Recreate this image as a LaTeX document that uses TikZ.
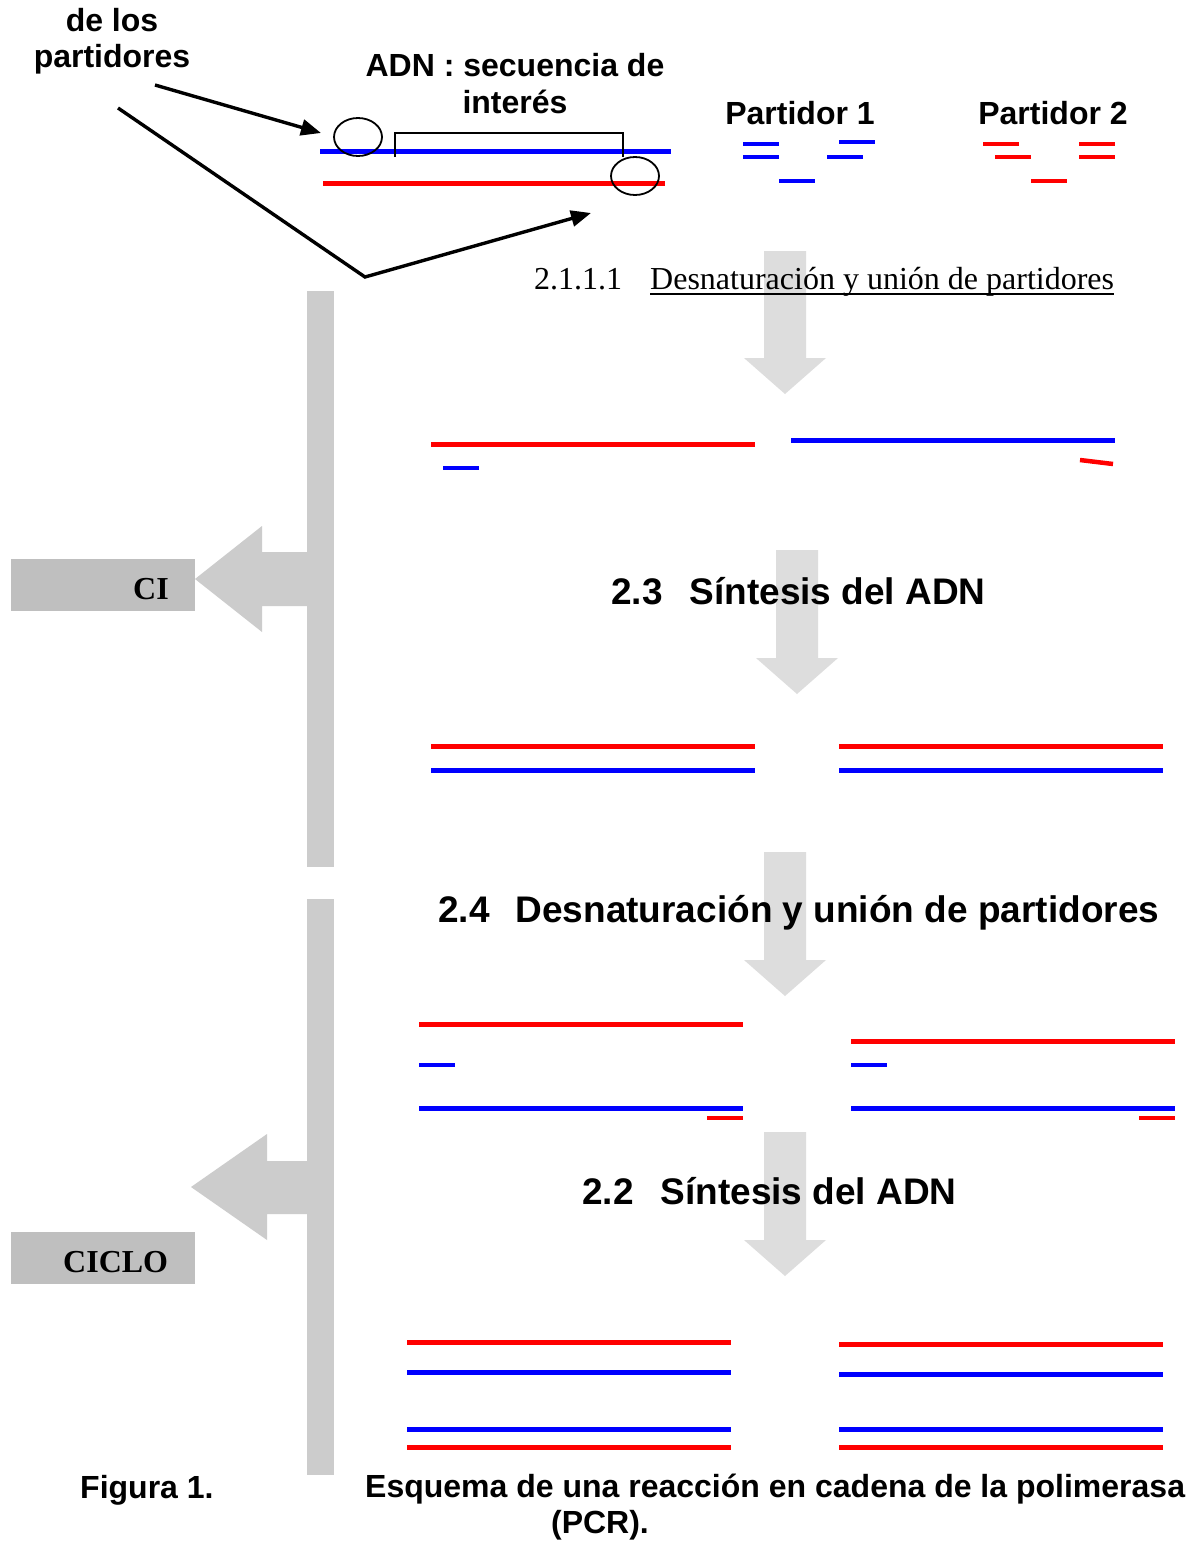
\documentclass[tikz,border=0pt]{standalone}
\usepackage{fontspec}
\setmainfont{Liberation Serif}
\newfontfamily\arialf{Liberation Sans}
\usetikzlibrary{arrows.meta,shapes.geometric}
\definecolor{bargray}{HTML}{CCCCCC}
\definecolor{boxgray}{HTML}{BFBFBF}
\definecolor{downgray}{HTML}{DDDDDD}
\tikzset{
  lbl/.style={font=\fontsize{32}{37}\selectfont\arialf\bfseries, inner sep=0, align=center, anchor=base},
  hd/.style={font=\fontsize{37}{42}\selectfont\arialf\bfseries, inner sep=0, anchor=base west},
  capt/.style={font=\fontsize{32}{36}\selectfont\arialf\bfseries, inner sep=0, anchor=base west},
  ser/.style={font=\fontsize{32}{37}\selectfont, inner sep=0, anchor=base west},
  serb/.style={font=\fontsize{32}{37}\selectfont\bfseries, inner sep=0, anchor=base west},
  rs/.style={draw=red, line width=5pt},
  bs/.style={draw=blue, line width=5pt},
  rp/.style={draw=red, line width=4.5pt},
  bp/.style={draw=blue, line width=4.5pt},
  blk/.style={draw=black, line width=3.4pt, -{Triangle[length=20pt,width=16pt]}},
  ring/.style={draw=black, line width=1.8pt, ellipse, minimum width=48pt, minimum height=38pt, inner sep=0},
}
\begin{document}
\begin{tikzpicture}[x=1pt,y=-1pt]
\useasboundingbox (0,0) rectangle (1194,1542);
\fill[white] (0,0) rectangle (1194,1542);

% ---- grey down arrows
\fill[downgray] (764,251) -- (806,251) -- (806,358) -- (826,358) -- (785,394) -- (744,358) -- (764,358) -- cycle;
\fill[downgray] (776,550) -- (818,550) -- (818,658) -- (838,658) -- (797,694) -- (756,658) -- (776,658) -- cycle;
\fill[downgray] (764,852) -- (806,852) -- (806,960) -- (826,960) -- (785,996) -- (744,960) -- (764,960) -- cycle;
\fill[downgray] (764,1132) -- (806,1132) -- (806,1240) -- (826,1240) -- (785,1276) -- (744,1240) -- (764,1240) -- cycle;

% ---- left grey bars and arrows
\fill[bargray] (307,291) rectangle (334,867);
\fill[bargray] (307,552) -- (262,552) -- (262,526) -- (195,579) -- (262,632) -- (262,606) -- (307,606) -- cycle;
\fill[bargray] (307,899) rectangle (334,1475);
\fill[bargray] (307,1161) -- (267,1161) -- (267,1134) -- (191,1187) -- (267,1240) -- (267,1214) -- (307,1214) -- cycle;

\node[fill=boxgray, minimum width=184pt, minimum height=52pt, inner sep=0] (cibox) at (103,585) {};
\node[serb] (ci) at (133,599) {CI};
\node[fill=boxgray, minimum width=184pt, minimum height=52pt, inner sep=0] (ciclobox) at (103,1258) {};
\node[serb] (ciclo) at (63,1272) {CICLO};

% ---- top labels (base anchor = last line)
\node[lbl, font=\fontsize{32}{36}\selectfont\arialf\bfseries] (prim) at (112,67) {de los\\partidores};
\node[lbl] (adn) at (515,113) {ADN : secuencia de\\interés};
\node[lbl] (p1) at (800,124) {Partidor 1};
\node[lbl] (p2) at (1053,124) {Partidor 2};

% ---- DNA with circles and bracket
\draw[bs] (320,151) -- (671,151);
\draw[rs] (323,183) -- (665,183);
\draw[line width=2pt] (395,157) -- (395,133) -- (623,133) -- (623,157);
\node[ring] (c1) at (358,137) {};
\node[ring] (c2) at (635,176) {};

\coordinate (a1s) at (155,85);
\coordinate (a1e) at (321,133);
\coordinate (a2s) at (118,108);
\coordinate (a2m) at (365,277);
\coordinate (a2e) at (591,213);
\draw[blk] (a1s) -- (a1e);
\draw[blk] (a2s) -- (a2m) -- (a2e);

% ---- primers
\draw[bp] (743,144) -- (779,144);
\draw[bp] (743,157) -- (779,157);
\draw[bp] (779,181) -- (815,181);
\draw[bp] (827,157) -- (863,157);
\draw[bp] (839,142) -- (875,142);
\draw[rp] (983,144) -- (1019,144);
\draw[rp] (995,157) -- (1031,157);
\draw[rp] (1031,181) -- (1067,181);
\draw[rp] (1079,144) -- (1115,144);
\draw[rp] (1079,157) -- (1115,157);

% ---- step 1 heading
\node[ser] (n2111) at (534,289) {2.1.1.1};
\node[ser] (t2111) at (650,289) {Desnaturación y unión de partidores};
\draw[line width=1.6pt] ([yshift=-5pt]t2111.base west) -- ([yshift=-5pt]t2111.base east);

% ---- after denaturation
\draw[rs] (431,444) -- (755,444);
\draw[bp] (443,468) -- (479,468);
\draw[bs] (791,440) -- (1115,440);
\draw[rp] (1080,460) -- (1113,464);

% ---- 2.3
\node[hd] (h23) at (611,604) {2.3\hspace{27pt}Síntesis del ADN};

\draw[rs] (431,746) -- (755,746);
\draw[bs] (431,770) -- (755,770);
\draw[rs] (839,746) -- (1163,746);
\draw[bs] (839,770) -- (1163,770);

% ---- 2.4
\node[hd] (h24) at (438,922) {2.4\hspace{26pt}Desnaturación y unión de partidores};

\draw[rs] (419,1024) -- (743,1024);
\draw[bp] (419,1065) -- (455,1065);
\draw[bs] (419,1108) -- (743,1108);
\draw[rp] (707,1118) -- (743,1118);
\draw[rs] (851,1041) -- (1175,1041);
\draw[bp] (851,1065) -- (887,1065);
\draw[bs] (851,1108) -- (1175,1108);
\draw[rp] (1139,1118) -- (1175,1118);

% ---- 2.2
\node[hd] (h22) at (582,1204) {2.2\hspace{27pt}Síntesis del ADN};

\draw[rs] (407,1342) -- (731,1342);
\draw[bs] (407,1372) -- (731,1372);
\draw[bs] (407,1429) -- (731,1429);
\draw[rs] (407,1447) -- (731,1447);
\draw[rs] (839,1344) -- (1163,1344);
\draw[bs] (839,1374) -- (1163,1374);
\draw[bs] (839,1429) -- (1163,1429);
\draw[rs] (839,1447) -- (1163,1447);

% ---- caption
\node[capt] (fig) at (80,1498) {Figura 1.};
\node[capt] (esq) at (365,1497) {Esquema de una reacción en cadena de la polimerasa};
\node[lbl] (pcr) at (600,1533) {(PCR).};
\end{tikzpicture}
\end{document}
